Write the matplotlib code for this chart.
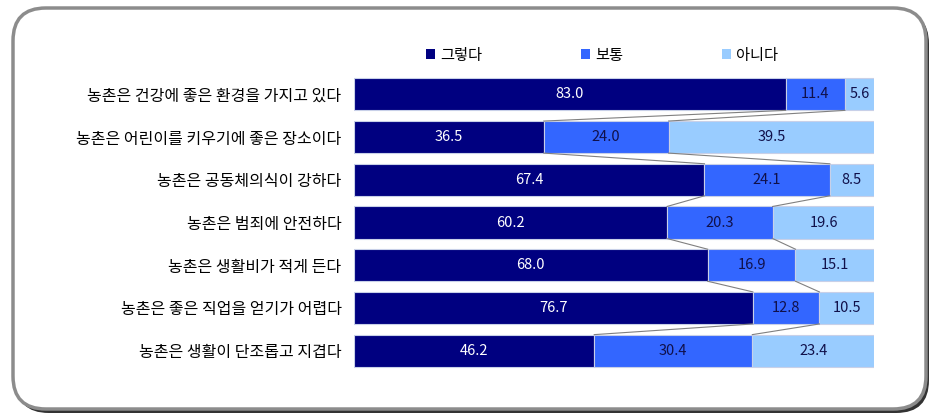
import numpy as np
import matplotlib.pyplot as plt
from matplotlib.patches import FancyBboxPatch

plt.rcParams['font.family'] = ['Noto Sans CJK KR', 'DejaVu Sans']

categories = ["농촌은 건강에 좋은 환경을 가지고 있다",
              "농촌은 어린이를 키우기에 좋은 장소이다",
              "농촌은 공동체의식이 강하다",
              "농촌은 범죄에 안전하다",
              "농촌은 생활비가 적게 든다",
              "농촌은 좋은 직업을 얻기가 어렵다",
              "농촌은 생활이 단조롭고 지겹다"]
yes = [83.0, 36.5, 67.4, 60.2, 68.0, 76.7, 46.2]
normal = [11.4, 24.0, 24.1, 20.3, 16.9, 12.8, 30.4]
no = [5.6, 39.5, 8.5, 19.6, 15.1, 10.5, 23.4]
series_names = ["그렇다", "보통", "아니다"]
colors = ["#000080", "#3366FF", "#99CCFF"]
text_colors = ["white", "#10104a", "#10104a"]

fig = plt.figure(figsize=(9.38, 4.2), dpi=100)

# rounded frame with shadow
shadow = FancyBboxPatch((16/938, 1-413/420), 913/938, 402/420,
                        boxstyle="round,pad=0,rounding_size=0.035",
                        transform=fig.transFigure, fc="#333333", ec="none",
                        mutation_aspect=938/420, zorder=-3)
frame = FancyBboxPatch((13/938, 1-409/420), 913/938, 401/420,
                       boxstyle="round,pad=0,rounding_size=0.035",
                       transform=fig.transFigure, fc="white", ec="#8c8c8c", lw=2.5,
                       mutation_aspect=938/420, zorder=-2)
fig.patches.extend([shadow, frame])

ax = fig.add_axes([354/938, 1-372/420, 520/938, 299/420])
ax.set_facecolor("none")

vals = np.array([yes, normal, no])
y = np.arange(len(categories))
h = 0.75
left = np.zeros(len(categories))
for k in range(3):
    ax.barh(y, vals[k], left=left, height=h, color=colors[k],
            edgecolor="#c8d0e8", lw=0.8, label=series_names[k])
    for i in range(len(categories)):
        ax.text(left[i] + vals[k][i] / 2, y[i], f"{vals[k][i]:.1f}",
                ha="center", va="center", color=text_colors[k], fontsize=10.5)
    left = left + vals[k]

# series lines between bars
cum = np.cumsum(vals, axis=0)
for k in range(2):
    for i in range(len(categories) - 1):
        ax.plot([cum[k][i], cum[k][i+1]], [y[i] + h/2, y[i+1] - h/2],
                color="#808080", lw=0.8)

ax.set_xlim(0, 100)
ax.set_ylim(len(categories) - 0.5, -0.5)
ax.set_yticks(y)
ax.set_yticklabels(categories, fontsize=11.5)
ax.tick_params(axis="y", length=0, pad=9)
ax.set_xticks([])
for s in ax.spines.values():
    s.set_visible(False)

leg = ax.legend(loc="center", bbox_to_anchor=(0.477, 1.06), ncol=3,
                frameon=False, fontsize=11, handlelength=0.6, handleheight=0.6,
                handletextpad=0.3, columnspacing=6.5)
for p in leg.get_patches():
    p.set_edgecolor("none")

fig.savefig("out.png", dpi=100)
